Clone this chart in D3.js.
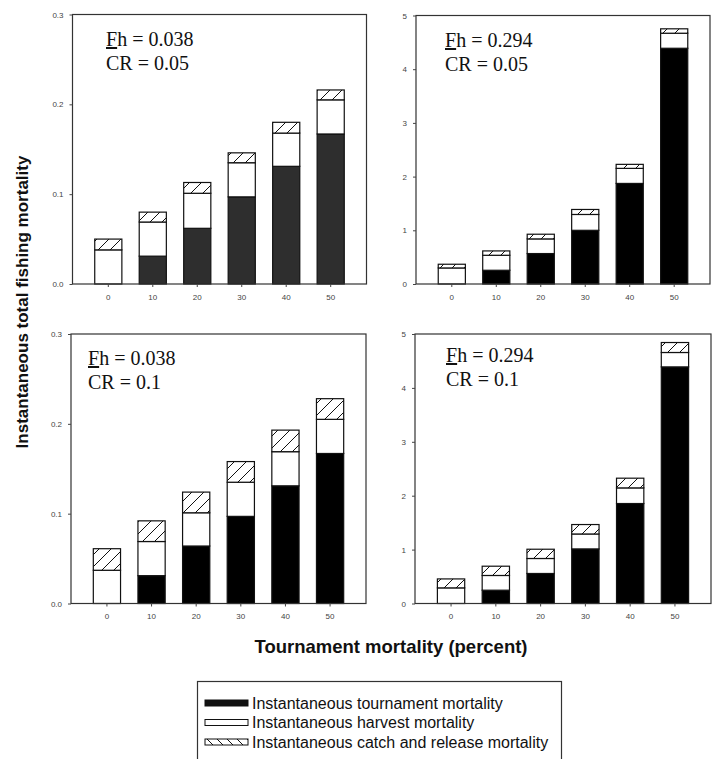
<!DOCTYPE html>
<html>
<head>
<meta charset="utf-8">
<script src="https://cdn.jsdelivr.net/npm/d3@7"></script>
<style>
  body { margin: 0; background: #fff; }
  svg { display: block; }
</style>
</head>
<body>
<div id="chart"></div>
<script>
// tournament mortality (percent)
var categories = [0, 10, 20, 30, 40, 50];

// Fh = 0.038, CR = 0.05
var tlTournament = [0, 0.031, 0.062, 0.097, 0.131, 0.167];
var tlHarvest    = [0.038, 0.038, 0.039, 0.038, 0.037, 0.038];
var tlCatch      = [0.012, 0.011, 0.012, 0.011, 0.012, 0.011];

// Fh = 0.294, CR = 0.05
var trTournament = [0, 0.256, 0.567, 1.0, 1.873, 4.39];
var trHarvest    = [0.299, 0.279, 0.273, 0.295, 0.280, 0.280];
var trCatch      = [0.069, 0.081, 0.087, 0.093, 0.075, 0.082];

// Fh = 0.038, CR = 0.1
var blTournament = [0, 0.031, 0.064, 0.097, 0.131, 0.167];
var blHarvest    = [0.037, 0.038, 0.037, 0.038, 0.038, 0.038];
var blCatch      = [0.024, 0.023, 0.023, 0.023, 0.024, 0.023];

// Fh = 0.294, CR = 0.1
var brTournament = [0, 0.247, 0.557, 1.013, 1.855, 4.39];
var brHarvest    = [0.290, 0.273, 0.278, 0.277, 0.290, 0.267];
var brCatch      = [0.166, 0.172, 0.172, 0.175, 0.180, 0.185];

var smallTicks = [0, 0.1, 0.2, 0.3];
var largeTicks = [0, 1, 2, 3, 4, 5];

var legendLabels = [
    'Instantaneous tournament mortality',
    'Instantaneous harvest mortality',
    'Instantaneous catch and release mortality'
];

var width = 718, height = 759;

var svg = d3.select('#chart').append('svg')
    .attr('width', width)
    .attr('height', height);

/* hatch patterns */
var defs = svg.append('defs');
defs.append('pattern')
    .attr('id', 'hatch')
    .attr('patternUnits', 'userSpaceOnUse')
    .attr('width', 12).attr('height', 12)
    .call(function(p) {
        p.append('rect').attr('width', 12).attr('height', 12).attr('fill', '#fff');
        p.append('path').attr('d', 'M-3,3 L3,-3 M0,12 L12,0 M9,15 L15,9')
            .attr('stroke', '#111').attr('stroke-width', 1);
    });
defs.append('pattern')
    .attr('id', 'hatchBack')
    .attr('patternUnits', 'userSpaceOnUse')
    .attr('width', 10).attr('height', 10)
    .call(function(p) {
        p.append('rect').attr('width', 10).attr('height', 10).attr('fill', '#fff');
        p.append('path').attr('d', 'M-3,7 L3,13 M0,0 L10,10 M7,-3 L13,3')
            .attr('stroke', '#111').attr('stroke-width', 1);
    });

var panels = [
    { t: tlTournament, h: tlHarvest, c: tlCatch, max: 0.3, ticks: smallTicks, fmt: d3.format('.1f'),
      x0: 72.5, x1: 366.5, y0: 14.5, y1: 284, dark: '#2e2e2e',
      fh: '0.038', cr: '0.05', tx: 106, ty: 46 },
    { t: trTournament, h: trHarvest, c: trCatch, max: 5, ticks: largeTicks, fmt: d3.format('d'),
      x0: 416, x1: 710, y0: 15.5, y1: 284, dark: '#000',
      fh: '0.294', cr: '0.05', tx: 445, ty: 47 },
    { t: blTournament, h: blHarvest, c: blCatch, max: 0.3, ticks: smallTicks, fmt: d3.format('.1f'),
      x0: 71, x1: 366, y0: 334, y1: 603.5, dark: '#000',
      fh: '0.038', cr: '0.1', tx: 88, ty: 365 },
    { t: brTournament, h: brHarvest, c: brCatch, max: 5, ticks: largeTicks, fmt: d3.format('d'),
      x0: 415, x1: 711, y0: 334, y1: 603.5, dark: '#000',
      fh: '0.294', cr: '0.1', tx: 446, ty: 362 }
];

var stack = d3.stack().keys(['t', 'h', 'c']);

panels.forEach(function(p) {
    var rows = categories.map(function(cat, i) {
        return { cat: cat, t: p.t[i], h: p.h[i], c: p.c[i] };
    });

    var x = d3.scaleBand()
        .domain(categories)
        .range([p.x0, p.x1])
        .paddingInner(0.39)
        .paddingOuter(0.5);

    var y = d3.scaleLinear()
        .domain([0, p.max])
        .range([p.y1, p.y0]);

    var g = svg.append('g');

    var fills = [p.dark, '#fff', 'url(#hatch)'];
    var series = stack(rows);

    g.selectAll('.layer').data(series)
        .enter().append('g')
        .attr('class', 'layer')
        .attr('fill', function(d, i) { return fills[i]; })
        .selectAll('rect')
        .data(function(d) { return d.filter(function(s) { return s[1] - s[0] > 0; }); })
        .enter().append('rect')
        .attr('x', function(d) { return x(d.data.cat); })
        .attr('width', x.bandwidth())
        .attr('y', function(d) { return y(d[1]); })
        .attr('height', function(d) { return y(d[0]) - y(d[1]); })
        .attr('stroke', '#111')
        .attr('stroke-width', 1.2);

    /* frame */
    g.append('rect')
        .attr('x', p.x0).attr('y', p.y0)
        .attr('width', p.x1 - p.x0).attr('height', p.y1 - p.y0)
        .attr('fill', 'none')
        .attr('stroke', '#333')
        .attr('stroke-width', 1.2);

    /* y axis */
    var yAxis = d3.axisLeft(y).tickValues(p.ticks).tickFormat(p.fmt).tickSize(3).tickPadding(6);
    var ya = g.append('g').attr('transform', 'translate(' + p.x0 + ',0)').call(yAxis);
    ya.select('.domain').remove();

    /* x axis */
    var xAxis = d3.axisBottom(x).tickSize(3).tickPadding(7);
    var xa = g.append('g').attr('transform', 'translate(0,' + p.y1 + ')').call(xAxis);
    xa.select('.domain').remove();

    [ya, xa].forEach(function(a) {
        a.selectAll('line').attr('stroke', '#444');
        a.selectAll('text')
            .attr('fill', '#444')
            .style('font-family', 'Liberation Sans, Arial, sans-serif')
            .style('font-size', '8px');
    });

    /* annotation */
    var ann = g.append('text')
        .attr('x', p.tx).attr('y', p.ty)
        .style('font-family', 'Liberation Serif, Times New Roman, serif')
        .style('font-size', '20px')
        .attr('fill', '#111');
    ann.append('tspan').text('F').style('text-decoration', 'underline');
    ann.append('tspan').text('h = ' + p.fh);

    g.append('text')
        .attr('x', p.tx).attr('y', p.ty + 24)
        .style('font-family', 'Liberation Serif, Times New Roman, serif')
        .style('font-size', '20px')
        .attr('fill', '#111')
        .text('CR = ' + p.cr);
});

/* axis titles */
svg.append('text')
    .attr('transform', 'translate(28,302) rotate(-90)')
    .attr('text-anchor', 'middle')
    .style('font-family', 'Liberation Sans, Arial, sans-serif')
    .style('font-size', '17px')
    .style('font-weight', 'bold')
    .attr('fill', '#111')
    .text('Instantaneous total fishing mortality');

svg.append('text')
    .attr('x', 391).attr('y', 653)
    .attr('text-anchor', 'middle')
    .style('font-family', 'Liberation Sans, Arial, sans-serif')
    .style('font-size', '18.5px')
    .style('font-weight', 'bold')
    .attr('fill', '#111')
    .text('Tournament mortality (percent)');

/* legend */
var legend = svg.append('g');
legend.append('rect')
    .attr('x', 197.5).attr('y', 681.5)
    .attr('width', 364).attr('height', 100)
    .attr('fill', '#fff')
    .attr('stroke', '#333')
    .attr('stroke-width', 1.2);

var legendFills = ['#111', '#fff', 'url(#hatchBack)'];
var ly = d3.scalePoint().domain(legendLabels).range([703, 742]);

var items = legend.selectAll('.item').data(legendLabels)
    .enter().append('g')
    .attr('class', 'item')
    .attr('transform', function(d) { return 'translate(0,' + ly(d) + ')'; });

items.append('rect')
    .attr('x', 205).attr('y', -3)
    .attr('width', 43).attr('height', 6)
    .attr('fill', function(d, i) { return legendFills[i]; })
    .attr('stroke', '#111')
    .attr('stroke-width', 1);

items.append('text')
    .attr('x', 252).attr('y', 5.5)
    .style('font-family', 'Liberation Sans, Arial, sans-serif')
    .style('font-size', '16px')
    .attr('fill', '#111')
    .text(function(d) { return d; });
</script>
</body>
</html>
